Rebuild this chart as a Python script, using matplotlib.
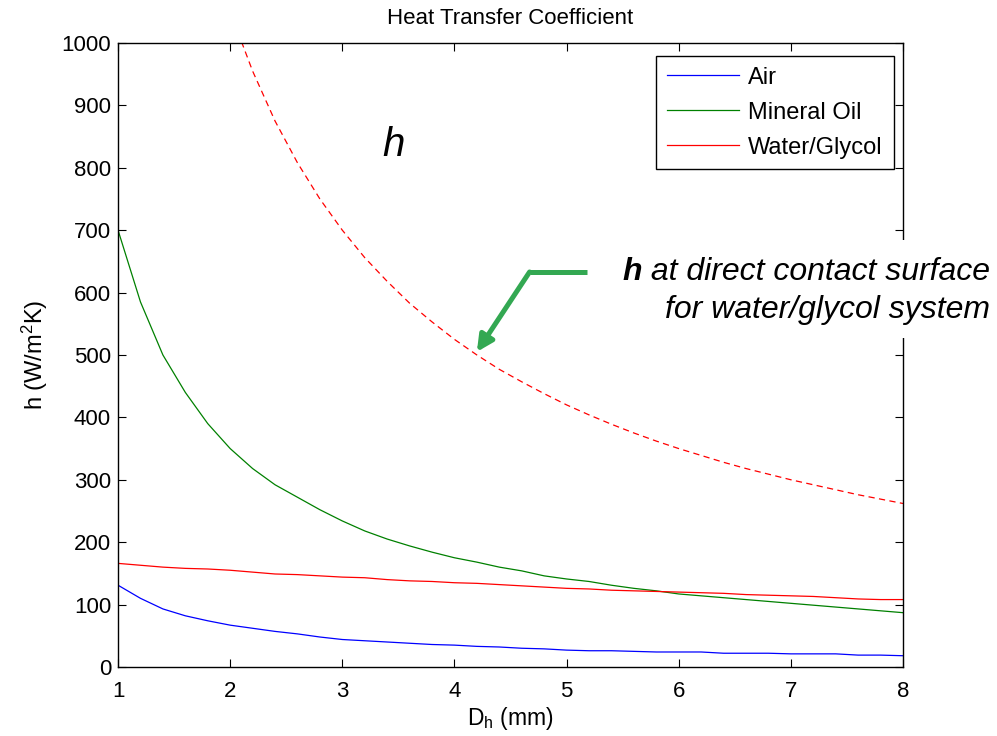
import numpy as np
import matplotlib
matplotlib.use("Agg")
import matplotlib.pyplot as plt
from matplotlib.text import Annotation
from matplotlib.patches import Rectangle

plt.rcParams['font.family'] = ['Liberation Sans', 'DejaVu Sans']
plt.rcParams['mathtext.default'] = 'regular'

# hydraulic diameter (mm)
dh = [1.0, 1.2, 1.4, 1.6, 1.8, 2.0, 2.2, 2.4, 2.6, 2.8, 3.0, 3.2, 3.4, 3.6, 3.8, 4.0, 4.2, 4.4,
      4.6, 4.8, 5.0, 5.2, 5.4, 5.6, 5.8, 6.0, 6.2, 6.4, 6.6, 6.8, 7.0, 7.2, 7.4, 7.6, 7.8, 8.0]

h_air = [131, 110, 93, 82, 74, 67, 62, 57, 53, 48, 44, 42, 40, 38, 36, 35, 33, 32,
         30, 29, 27, 26, 26, 25, 24, 24, 24, 22, 22, 22, 21, 21, 21, 19, 19, 18]
h_oil = [700, 585, 500, 440, 390, 350, 318, 292, 272, 252, 234, 218, 205, 194, 184, 175, 168, 160,
         154, 146, 141, 137, 131, 126, 122, 117, 114, 111, 108, 105, 102, 99, 96, 93, 90, 87]
h_wg = [166, 163, 160, 158, 157, 155, 152, 149, 148, 146, 144, 143, 140, 138, 137, 135, 134, 132,
        130, 128, 126, 125, 123, 122, 121, 120, 119, 118, 116, 115, 114, 113, 111, 109, 108, 108]

# h at direct contact surface, water/glycol
dh_surf = [2.0, 2.2, 2.4, 2.6, 2.8, 3.0, 3.2, 3.4, 3.6, 3.8, 4.0, 4.2, 4.4, 4.6, 4.8, 5.0,
           5.2, 5.4, 5.6, 5.8, 6.0, 6.2, 6.4, 6.6, 6.8, 7.0, 7.2, 7.4, 7.6, 7.8, 8.0]
h_surf = [1050, 955, 875, 808, 750, 700, 656, 618, 583, 553, 525, 500, 477, 457, 438, 420,
          404, 389, 375, 362, 350, 339, 328, 318, 309, 300, 292, 284, 276, 269, 262]

fig = plt.figure(figsize=(9.97, 7.36), dpi=100)
ax = fig.add_axes([0.1184, 0.0938, 0.7873, 0.8478])

ax.plot(dh, h_air, color='b', lw=0.9, label='Air')
ax.plot(dh, h_oil, color=(0, 0.5, 0), lw=0.9, label='Mineral Oil')
ax.plot(dh, h_wg, color='r', lw=0.9, label='Water/Glycol')
ax.plot(dh_surf, h_surf, color='r', lw=0.9, dashes=(5, 3.5))

ax.set_xlim(1, 8)
ax.set_ylim(0, 1000)
ax.set_xticks(range(1, 9))
ax.set_yticks(range(0, 1001, 100))
ax.tick_params(direction='in', top=True, right=True, length=6, labelsize=16)
ax.tick_params(axis='x', pad=10)
ax.tick_params(axis='y', pad=5)
for s in ax.spines.values():
    s.set_linewidth(1.0)

ax.set_title('Heat Transfer Coefficient', fontsize=16, pad=14)
ax.set_xlabel('D$_h$ (mm)', fontsize=16.5, labelpad=2)
ax.set_ylabel('h (W/m$^2$K)', fontsize=17, labelpad=8)

leg = ax.legend(loc='upper right', fontsize=17, fancybox=False, edgecolor='k',
                framealpha=1, handlelength=3.05, handletextpad=0.4, borderpad=0.45,
                labelspacing=0.55, bbox_to_anchor=(0.988, 0.979), borderaxespad=0)
leg.get_frame().set_linewidth(1.0)

ax.text(3.36, 819, 'h', fontsize=29, style='italic')

# annotation
green = '#33a852'
ax.plot([5.18, 4.67], [633, 633], color=green, lw=3.6, solid_capstyle='butt')
ax.annotate('', xy=(4.2, 505), xytext=(4.67, 633),
            arrowprops=dict(arrowstyle='-|>', color=green, lw=3.6, mutation_scale=24,
                            shrinkA=0, shrinkB=0))

# white patch behind the text (hides the right spine there)
fig.add_artist(Rectangle((0.64, 1 - 338 / 736), 0.36, 98 / 736, transform=fig.transFigure,
                         facecolor='white', edgecolor='none', zorder=2.5))

t1 = fig.text(0.993, 0.6304, ' at direct contact surface', fontsize=23, style='italic',
              ha='right', va='center', zorder=3)
fig.text(0.993, 0.5788, 'for water/glycol system', fontsize=23, style='italic',
         ha='right', va='center', zorder=3)
fig.add_artist(Annotation('h', xy=(0, 0.5), xycoords=t1, ha='right', va='center',
                          fontsize=23, style='italic', weight='bold', zorder=3))

fig.savefig('out.png', dpi=100)
